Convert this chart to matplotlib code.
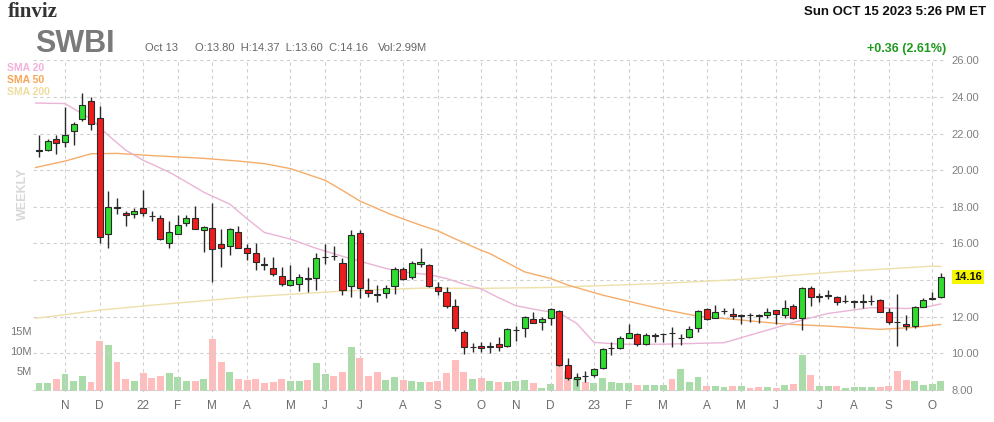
import matplotlib
matplotlib.use('Agg')
import matplotlib.pyplot as plt

plt.rcParams['font.family'] = ['Liberation Sans', 'DejaVu Sans']

# ---------------- data: weekly SWBI, week of Oct 11 2021 .. week of Oct 9 2023 ----------------
opens = [21.05, 21.13, 21.68, 21.55, 22.14, 22.80, 23.77, 22.86, 16.54, 17.97,
         17.68, 17.62, 17.96, 17.50, 17.40, 16.05, 16.54, 17.13, 17.40, 16.72,
         16.86, 15.95, 15.84, 16.63, 15.73, 15.50, 14.90, 14.67, 14.24, 13.75,
         13.80, 14.07, 14.13, 15.25, 15.31, 14.91, 13.67, 16.60, 13.44, 13.20,
         13.31, 13.69, 14.58, 14.16, 14.87, 14.84, 13.60, 13.36, 12.60, 11.15,
         10.33, 10.42, 10.35, 10.49, 10.42, 11.27, 11.36, 11.85, 11.69, 11.91,
         12.33, 9.38, 8.60, 8.76, 8.82, 9.22, 10.27, 10.31, 10.85, 11.05,
         10.49, 10.95, 11.05, 11.09, 10.82, 10.91, 11.40, 12.40, 11.95, 12.31,
         12.16, 12.04, 12.09, 12.04, 12.09, 12.35, 12.09, 12.60, 11.95, 13.58,
         13.09, 13.15, 13.09, 12.85, 12.82, 12.82, 12.85, 12.89, 12.24, 11.69,
         11.62, 11.51, 12.55, 12.98, 13.09]
highs = [21.90, 21.70, 21.90, 23.48, 22.63, 24.20, 24.00, 23.53, 18.88, 18.49,
         17.77, 17.95, 18.94, 17.77, 17.58, 17.23, 17.58, 17.58, 18.07, 16.95,
         18.22, 16.77, 16.86, 16.95, 15.96, 16.00, 15.27, 15.27, 14.73, 14.85,
         14.31, 14.73, 15.50, 15.95, 15.87, 15.22, 16.73, 16.73, 14.09, 13.73,
         13.76, 14.73, 14.73, 15.04, 15.73, 14.86, 13.91, 13.64, 12.95, 11.30,
         10.55, 10.64, 10.64, 10.87, 11.40, 11.51, 12.05, 12.24, 12.00, 12.45,
         12.36, 9.73, 8.91, 9.04, 9.22, 10.27, 10.60, 10.95, 11.58, 11.09,
         11.09, 11.13, 11.13, 11.45, 11.04, 11.51, 12.36, 12.45, 12.64, 12.45,
         12.45, 12.13, 12.18, 12.13, 12.45, 12.36, 12.89, 12.71, 13.62, 13.67,
         13.27, 13.45, 13.15, 13.18, 12.91, 13.22, 13.18, 12.95, 12.49, 13.22,
         12.09, 12.60, 13.00, 13.36, 14.37]
lows = [20.70, 21.05, 20.90, 21.28, 21.37, 22.68, 22.18, 16.05, 15.73, 17.60,
        16.95, 17.40, 17.50, 17.23, 16.20, 15.73, 16.50, 16.95, 16.77, 15.51,
        13.90, 14.70, 15.37, 15.75, 15.10, 14.55, 14.55, 14.24, 13.69, 13.67,
        13.40, 13.36, 13.45, 14.87, 15.09, 13.18, 13.09, 13.04, 13.09, 12.82,
        13.04, 13.22, 14.00, 14.04, 14.73, 13.64, 13.18, 12.45, 11.22, 9.97,
        10.05, 10.05, 10.00, 10.13, 10.33, 10.67, 10.87, 11.64, 11.27, 11.55,
        9.33, 8.55, 8.24, 8.42, 8.73, 9.15, 9.91, 10.24, 10.82, 10.42,
        10.45, 10.64, 10.60, 10.36, 10.45, 10.85, 11.18, 11.82, 11.91, 12.13,
        11.87, 11.58, 11.73, 11.64, 11.95, 11.58, 11.91, 11.87, 11.27, 12.60,
        12.82, 12.96, 12.64, 12.73, 12.45, 12.45, 12.64, 12.24, 11.58, 10.42,
        11.27, 11.40, 12.53, 12.90, 13.05]
closes = [21.07, 21.60, 21.51, 21.95, 22.50, 23.58, 22.50, 16.38, 18.00, 17.95,
          17.57, 17.80, 17.65, 17.49, 16.27, 16.65, 17.00, 17.40, 16.80, 16.92,
          15.70, 15.78, 16.81, 15.78, 15.48, 15.00, 14.82, 14.33, 13.80, 13.98,
          14.15, 14.09, 15.22, 15.27, 15.33, 13.45, 16.49, 13.55, 13.31, 13.21,
          13.58, 14.58, 14.05, 14.91, 15.00, 13.67, 13.42, 12.58, 11.40, 10.36,
          10.36, 10.31, 10.35, 10.36, 11.33, 11.28, 11.96, 11.67, 11.85, 12.40,
          9.36, 8.64, 8.73, 8.77, 9.15, 10.22, 10.28, 10.85, 11.13, 10.49,
          11.00, 10.96, 11.06, 11.10, 10.83, 11.31, 12.31, 11.87, 12.24, 12.32,
          12.04, 12.05, 12.10, 12.05, 12.24, 12.16, 12.49, 11.91, 13.55, 13.09,
          13.10, 13.16, 12.82, 12.86, 12.83, 12.83, 12.86, 12.27, 11.73, 11.70,
          11.49, 12.55, 12.93, 13.00, 14.16]
volume_m = [2.1, 2.1, 3.1, 4.3, 2.6, 3.8, 2.3, 12.6, 11.6, 7.3,
            3.1, 2.6, 4.6, 3.3, 3.8, 4.6, 3.6, 2.6, 2.6, 3.1,
            13.1, 7.3, 4.8, 3.1, 2.8, 3.1, 2.1, 2.3, 3.1, 2.6,
            2.6, 2.8, 7.1, 4.3, 3.8, 4.8, 11.1, 8.3, 3.8, 4.8,
            2.8, 3.6, 2.8, 2.6, 2.3, 2.3, 2.6, 4.6, 7.8, 4.8,
            3.1, 3.3, 2.6, 2.3, 2.3, 2.6, 2.8, 2.1, 0.8, 1.8,
            6.2, 5.1, 3.3, 2.3, 2.1, 3.3, 2.3, 2.1, 2.1, 1.6,
            1.6, 1.6, 1.6, 3.1, 5.6, 2.3, 3.6, 1.3, 1.3, 1.1,
            1.3, 1.3, 0.8, 1.1, 1.1, 0.8, 1.6, 1.8, 9.1, 4.1,
            1.3, 1.3, 1.3, 0.8, 1.1, 1.1, 1.1, 1.1, 1.3, 5.1,
            2.8, 2.6, 1.6, 1.8, 2.6]
volume_up = ("ggrgggrrgrrgrrrgggrgrrgrrrrrrggrggrrgrrrggrggrrrrrgrg"
             "rgggrggrrgrgggggrgggrgggrggrgrrgrgrgrggrggggrrrrgggg")

month_pos = [3, 7, 12, 16, 20, 24, 29, 33, 37, 42, 46, 51,
             55, 59, 64, 68, 72, 77, 81, 85, 90, 94, 98, 103]
month_labels = ['N', 'D', '22', 'F', 'M', 'A', 'M', 'J', 'J', 'A', 'S', 'O',
                'N', 'D', '23', 'F', 'M', 'A', 'M', 'J', 'J', 'A', 'S', 'O']

# moving averages (week index, value)
sma20_x = [-0.4, 3, 6, 8, 10, 12, 15, 17, 19, 22, 24, 26, 29, 32, 35, 38, 40, 42,
           45, 47, 49, 51, 53, 55, 58, 60, 62, 64, 67, 72, 79, 88, 91, 96, 100, 102, 104]
sma20_y = [23.67, 23.64, 22.8, 21.9, 21.1, 20.55, 19.9, 19.36, 18.8, 18.15, 17.35, 16.6,
           16.24, 15.73, 15.3, 14.9, 14.64, 14.44, 14.3, 14.09, 13.78, 13.52, 13.04, 12.6,
           12.33, 12.2, 11.64, 10.6, 10.5, 10.5, 10.58, 11.82, 12.18, 12.5, 12.45, 12.5, 12.7]
sma50_x = [-0.4, 3, 6, 9, 13, 19, 23, 26, 29, 33, 35, 37, 40.5, 44, 46, 48, 51, 52,
           56, 59, 61, 65, 69, 72, 76, 81, 85, 88, 91, 97, 101, 104]
sma50_y = [20.15, 20.5, 20.9, 20.92, 20.8, 20.65, 20.5, 20.36, 20.09, 19.45, 18.9, 18.32,
           17.6, 17.0, 16.69, 16.25, 15.63, 15.45, 14.45, 14.09, 13.73, 13.18, 12.73, 12.4,
           12.03, 11.82, 11.64, 11.55, 11.49, 11.31, 11.42, 11.58]
sma200_x = [-0.4, 7, 13, 19, 24, 35, 44, 51, 59, 72, 81, 92, 103, 104]
sma200_y = [11.91, 12.36, 12.63, 12.87, 13.08, 13.4, 13.56, 13.55, 13.6, 13.82, 14.04,
            14.45, 14.76, 14.75]

price_ticks = [8, 10, 12, 14, 16, 18, 20, 22, 24, 26]
vol_ticks = [5, 10, 15]
last_close = 14.16

# ---------------- figure ----------------
W, H = 994, 422
fig = plt.figure(figsize=(W / 100, H / 100), dpi=100)
rect = [33 / W, (H - 392) / H, (946 - 33) / W, (392 - 60) / H]

ax_vol = fig.add_axes(rect, zorder=1)
ax = fig.add_axes(rect, zorder=2)
ax.patch.set_alpha(0)

n = len(closes)
xs = list(range(n))

# volume
vcol = ['#a9dca9' if c == 'g' else '#ffbdbd' for c in volume_up]
ax_vol.bar(xs, volume_m, width=0.8, color=vcol, linewidth=0)
ax_vol.set_ylim(-0.2, 83)
ax_vol.set_xlim(-0.69, 104.6)
ax_vol.set_xticks([])
ax_vol.set_yticks(vol_ticks)
ax_vol.set_yticklabels([f'{v}M' for v in vol_ticks])
ax_vol.tick_params(axis='y', length=0, pad=1, labelsize=8, labelcolor='#777777')
for s in ax_vol.spines.values():
    s.set_visible(False)

# grid
for p in price_ticks:
    ax.axhline(p, color='#cfcfcf', lw=0.8, ls=(0, (3, 3)), zorder=0)
for m in month_pos:
    ax.axvline(m, color='#cfcfcf', lw=0.8, ls=(0, (3, 3)), zorder=0)

# moving averages
ax.plot(sma200_x, sma200_y, color='#eee0aa', lw=1, zorder=2)
ax.plot(sma50_x, sma50_y, color='#f6ad6a', lw=1, zorder=2)
ax.plot(sma20_x, sma20_y, color='#eab4d6', lw=1, zorder=2)

# candles
ax.vlines(xs, lows, highs, color='#2a2a2a', lw=1, zorder=3)
bottoms = [min(o, c) for o, c in zip(opens, closes)]
heights = [max(abs(c - o), 0.03) for o, c in zip(opens, closes)]
ccol = ['#2fdc2f' if c >= o else '#ee1c1c' for o, c in zip(opens, closes)]
ax.bar(xs, heights, bottom=bottoms, width=0.7, color=ccol, edgecolor='#2a2a2a',
       linewidth=0.8, zorder=4)

ax.set_xlim(-0.69, 104.6)
ax.set_ylim(7.89, 26.02)
ax.set_xticks(month_pos)
ax.set_xticklabels(month_labels)
ax.yaxis.tick_right()
ax.set_yticks(price_ticks)
# the 14.00 label sits under the last-price tag
ax.set_yticklabels(['' if p == 14 else f'{p:.2f}' for p in price_ticks])
ax.tick_params(axis='y', length=0, pad=4, labelsize=8, labelcolor='#808080')
ax.tick_params(axis='x', length=0, pad=6, labelsize=8.5, labelcolor='#6b6b6b')
for s in ax.spines.values():
    s.set_visible(False)

# last price tag on the right axis
ax.annotate(f'{last_close:.2f}', xy=(1, last_close), xycoords=('axes fraction', 'data'),
            xytext=(16, 0), textcoords='offset points', ha='center', va='center',
            weight='bold', fontsize=8, color='#111111', annotation_clip=False,
            bbox=dict(boxstyle='square,pad=0.18', facecolor='#f6f600', edgecolor='none'))

# ---------------- header texts ----------------
def fx(px):
    return px / W

def fy(py):
    return 1 - py / H

fig.text(fx(8), fy(17), 'finviz', family=['Liberation Serif', 'DejaVu Serif'],
         weight='bold', fontsize=15, color='#333333')
fig.text(fx(35), fy(52), 'SWBI', weight='bold', fontsize=22, color='#7a7a7a')
fig.text(fx(145), fy(51), 'Oct 13', fontsize=8, color='#666666')
fig.text(fx(195), fy(51), 'O:13.80  H:14.37  L:13.60  C:14.16', fontsize=8, color='#666666')
fig.text(fx(378), fy(51), 'Vol:2.99M', fontsize=8, color='#666666')
fig.text(fx(986), fy(15), 'Sun OCT 15 2023 5:26 PM ET', ha='right', weight='bold',
         fontsize=9.5, color='#111111')
fig.text(fx(946), fy(52), '+0.36 (2.61%)', ha='right', weight='bold', fontsize=9,
         color='#1e9a1e')
fig.text(fx(7), fy(71), 'SMA 20', weight='bold', fontsize=7.5, color='#f2b0da')
fig.text(fx(7), fy(83), 'SMA 50', weight='bold', fontsize=7.5, color='#f8a456')
fig.text(fx(7), fy(95), 'SMA 200', weight='bold', fontsize=7.5, color='#efdc9c')
fig.text(fx(23), fy(194), 'WEEKLY', rotation=90, ha='center', va='center',
         weight='bold', fontsize=9, color='#d8d8d8')

fig.savefig('out.png', dpi=100)
